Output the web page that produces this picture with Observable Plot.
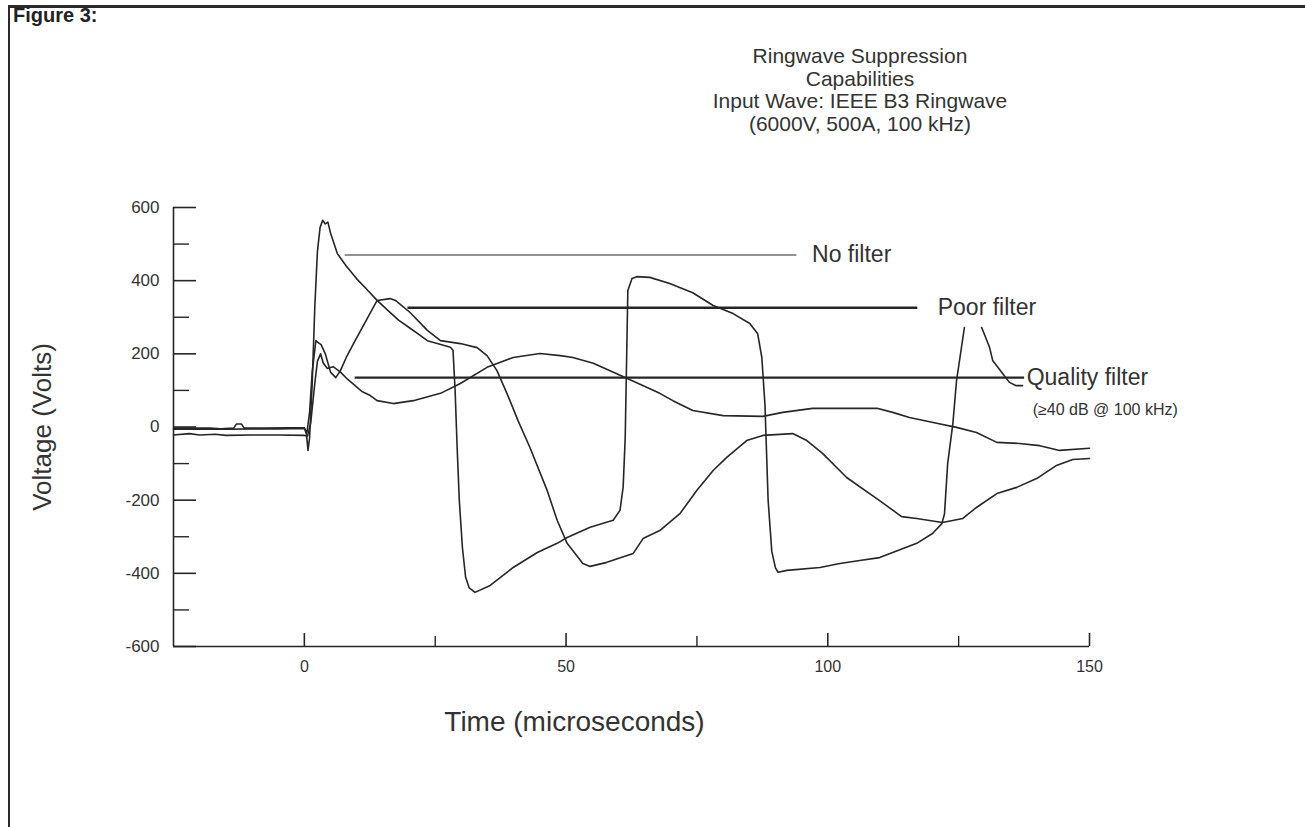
<!DOCTYPE html>
<html><head><meta charset="utf-8">
<script src="https://cdn.jsdelivr.net/npm/d3@7"></script>
<script src="https://cdn.jsdelivr.net/npm/@observablehq/plot@0.6"></script>
<style>
body{margin:0;background:#fff;font-family:"Liberation Sans",Arial,sans-serif;}
#wrap{position:relative;width:1305px;height:827px;overflow:hidden;background:#fff;}
#frame{position:absolute;left:8px;top:5px;width:1400px;height:900px;border-top:3px solid #2a2a2a;border-left:2px solid #2a2a2a;}
#fig{position:absolute;left:13px;top:4px;font-weight:bold;font-size:20px;color:#222;}
#title{position:absolute;left:560px;width:600px;top:45px;text-align:center;font-size:21px;line-height:22.5px;color:#333;}
#chart{position:absolute;left:0;top:0;}
</style></head><body>
<div id="wrap">
<div id="frame"></div>
<div id="fig">Figure 3:</div>
<div id="title"></div>
<div id="chart"></div>
</div>
<script>
// ---- text ----
const figureLabel = "Figure 3:";
const titleLines = ["Ringwave Suppression", "Capabilities", "Input Wave: IEEE B3 Ringwave", "(6000V, 500A, 100 kHz)"];
const xLabel = "Time (microseconds)";
const yLabel = "Voltage (Volts)";

// ---- ticks ----
const yMajor = [600, 400, 200, 0, -200, -400, -600];
const yMinor = [500, 300, 100, -100, -300, -500];
const xMajor = [0, 50, 100, 150];
const xMinor = [25, 75, 125];

// ---- series: No filter ----
const noFilterT = [-25,-18,-16,-13.5,-13,-12,-11.5,-8,-3,0,0.4,0.7,1.0,1.5,2.0,2.5,3.0,3.5,4.0,4.5,5.0,6.3,8,10,12,13.9,16,18,20,22,23.5,25.4,27.9,28.4,28.8,29.2,29.6,30.2,30.8,31.5,32.6,35.5,39.9,44.5,48.3,50.2,54.6,59,60.3,60.9,61.3,61.8,62.6,63.5,66,69.8,74.2,78.1,81.9,85.1,86.6,87.4,88.0,88.6,89.3,90.0,90.5,92.2,98.5,102.3,106.1,109.9,112.4,117,120,121.8,122.3,122.9,123.9,124.6,126.1,127.5,129.4,130.9,131.5,133.4,134.7,136,137.2];
const noFilterV = [-3,-3,-5,-3,8,8,-3,-3,-2,-2,-20,-64,-30,120,330,480,545,565,555,560,530,474,440,405,375,346,318,292,272,252,236,228,218,210,100,-60,-200,-330,-410,-440,-452,-433,-384,-343,-318,-302,-274,-255,-228,-165,-29,373,406,411,409,392,367,332,310,283,255,190,60,-200,-340,-385,-397,-392,-384,-373,-365,-357,-343,-318,-291,-264,-237,-100,10,127,272,NaN,272,218,182,146,122,113,113];

// ---- series: Poor filter ----
const poorFilterT = [-25,-20,-15,-10,-5,0,0.5,1.0,1.5,2.2,2.7,3.2,4,5,6,6.9,8,9.7,12,13.9,16.4,17.4,20.2,23.5,26,29.8,33,34.9,36.8,38.7,40.8,43.1,46.4,48.3,50.2,53.2,54.6,57.8,62.8,64.7,67.9,71.8,75,78.1,80.7,84.5,87.6,93.3,96,99,103.6,109.9,114.1,117,121.9,125.8,128.4,132.3,136.1,139.9,143.7,146.8,150];
const poorFilterV = [-6,-5,-6,-5,-5,-4,-15,40,150,236,230,225,200,150,135,154,190,236,296,346,351,346,313,264,236,228,217,195,154,92,18,-56,-174,-255,-318,-373,-381,-370,-346,-305,-283,-236,-173,-119,-83,-37,-23,-18,-37,-72,-138,-201,-245,-250,-261,-250,-220,-182,-165,-141,-105,-89,-86];

// ---- series: Quality filter ----
const qualityFilterT = [-25,-22,-20,-17,-15,-10,-5,0,0.6,1.2,2.0,2.5,3.1,3.6,4.4,5.5,6.9,8.3,9.7,11,12.6,13.9,17,20.8,26,29.8,34.9,39.9,45,48.9,51.3,55.2,61.6,67.9,70.4,74.2,80,87.6,91.4,97.1,103.6,109.4,112.4,115.6,120.8,124.6,128.4,132.3,136.6,140.5,144.3,150];
const qualityFilterV = [-22,-18,-22,-20,-23,-22,-22,-23,-25,10,120,180,200,175,160,165,150,130,113,97,86,72,64,72,92,119,163,190,201,195,190,174,133,92,72,45,31,29,40,51,51,51,40,26,10,-1,-15,-42,-45,-51,-64,-58];

// ---- annotation labels ----
const legendNames = ["No filter", "Poor filter", "Quality filter"];
const legendV = [470, 326, 135];
const legendT1 = [7.8, 19.8, 9.7];
const legendT2 = [94.1, 117.2, 137.6];
const legendTextT = [97, 121, 138];
const qualityNote = "(\u226540 dB @ 100 kHz)";

// ---- build ----
document.getElementById("title").innerHTML = titleLines.map(s => `<div>${s}</div>`).join("");
document.getElementById("fig").textContent = figureLabel;

const rows = [];
const add = (name, T, V) => T.forEach((t, i) => rows.push({series: name, t, v: V[i]}));
add("No filter", noFilterT, noFilterV);
add("Poor filter", poorFilterT, poorFilterV);
add("Quality filter", qualityFilterT, qualityFilterV);

const legendRows = legendNames.map((name, i) => ({name, v: legendV[i], t1: legendT1[i], t2: legendT2[i], tt: legendTextT[i]}));

const ink = "#262626";
const fmt = d => String(d);
const chart = Plot.plot({
  width: 1305, height: 827,
  marginLeft: 173, marginRight: 216, marginTop: 207, marginBottom: 181,
  x: {domain: [-25, 150]},
  y: {domain: [-600, 600]},
  style: {fontFamily: "'Liberation Sans', Arial, sans-serif", color: "#333", background: "transparent", overflow: "visible"},
  marks: [
    Plot.ruleX([-25], {stroke: ink, strokeWidth: 1.6}),
    Plot.ruleY([-600], {stroke: ink, strokeWidth: 1.6}),
    Plot.axisY({ticks: yMajor, tickSize: -23, text: null, label: null, stroke: ink, strokeWidth: 1.6}),
    Plot.axisY({ticks: yMinor, tickSize: -16, text: null, label: null, stroke: ink, strokeWidth: 1.4}),
    Plot.axisY({ticks: yMajor, tickSize: 0, tickPadding: 14, tickFormat: fmt, fontSize: 17, label: null, fill: "#333"}),
    Plot.axisX({ticks: xMajor, tickSize: -13, text: null, label: null, stroke: ink, strokeWidth: 1.6}),
    Plot.axisX({ticks: xMinor, tickSize: -10, text: null, label: null, stroke: ink, strokeWidth: 1.4}),
    Plot.axisX({ticks: xMajor, tickSize: 0, tickPadding: 14, tickFormat: fmt, fontSize: 16, label: null, fill: "#333"}),
    Plot.text([yLabel], {frameAnchor: "left", textAnchor: "middle", lineAnchor: "middle", rotate: -90, dx: -131, fontSize: 26, fill: "#333"}),
    Plot.text([xLabel], {frameAnchor: "bottom", textAnchor: "middle", lineAnchor: "middle", dx: -57, dy: 76, fontSize: 28, fill: "#333"}),
    Plot.line(rows, {x: "t", y: "v", z: "series", stroke: ink, strokeWidth: 1.6, curve: "linear"}),
    Plot.ruleY(legendRows, {y: "v", x1: "t1", x2: "t2", stroke: ink, strokeWidth: d => d.name === "No filter" ? 1.1 : 2.4}),
    Plot.text(legendRows, {x: "tt", y: "v", text: "name", textAnchor: "start", fontSize: 23, fill: "#333"}),
    Plot.text([qualityNote], {x: legendTextT[2], y: legendV[2], dx: 6, dy: 32, textAnchor: "start", fontSize: 16, letterSpacing: 1.5, fill: "#333"})
  ]
});
document.getElementById("chart").appendChild(chart);
</script>
</body></html>
